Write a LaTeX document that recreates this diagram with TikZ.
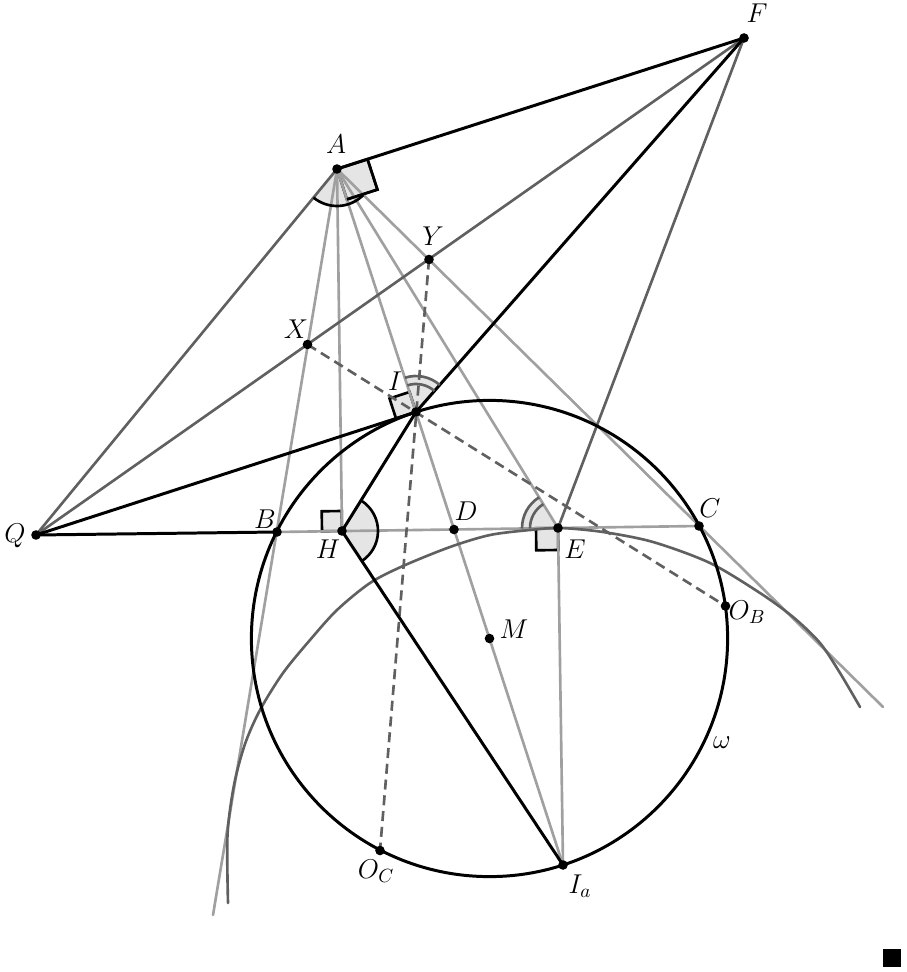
\RequirePackage{fix-cm}
\documentclass[tikz,border=0pt]{standalone}
\usepackage{tikz}
\usetikzlibrary{calc}

\definecolor{dkgray}{RGB}{96,96,96}
\definecolor{ltgray}{RGB}{160,160,160}
\definecolor{anglegray}{RGB}{229,229,229}

\begin{document}
\begin{tikzpicture}[x=0.02cm,y=-0.02cm,
    every node/.style={font=\fontsize{15.5}{18}\selectfont},
    blackline/.style={line width=1.7pt,black,line cap=round},
    darkline/.style={line width=1.5pt,dkgray,line cap=round},
    greyline/.style={line width=1.5pt,ltgray,line cap=round},
    dashline/.style={line width=1.5pt,dkgray,dash pattern=on 5.7pt off 3.3pt},
    anglefill/.style={fill=anglegray},
    anglearc/.style={line width=1.5pt,black},
    doublearc/.style={line width=1.5pt,dkgray},
    rightsq/.style={line width=1.5pt,black,fill=anglegray,line join=miter}]
  \useasboundingbox (0,0) rectangle (906,972);

  % points
  \coordinate (A) at (337,169);
  \coordinate (B) at (277,532);
  \coordinate (C) at (699,526);
  \coordinate (I) at (416,412);
  \coordinate (Ia) at (563,865);
  \coordinate (M) at (489.5,638.5);
  \coordinate (D) at (454,529.5);
  \coordinate (H) at (342,531);
  \coordinate (E) at (558,528);
  \coordinate (F) at (744,38);
  \coordinate (Q) at (36,535);
  \coordinate (X) at (307.5,344.5);
  \coordinate (Y) at (429,259.5);
  \coordinate (OB) at (725.5,606);
  \coordinate (OC) at (380,850.5);
  \coordinate (ABend) at (213,915);
  \coordinate (ACend) at (883,707);

  % angle fills
  \fill[anglefill] (A) -- ++(44.6:37) arc[start angle=44.6,end angle=129.4,radius=37] -- cycle;
  \fill[anglefill] (H) -- ++(-58.1:36) arc[start angle=-58.1,end angle=56.5,radius=36] -- cycle;
  \fill[anglefill] (E) -- ++(-180.8:36) arc[start angle=-180.8,end angle=-121.6,radius=36] -- cycle;
  \fill[anglefill] (I) -- ++(-108:36) arc[start angle=-108,end angle=-48.75,radius=36] -- cycle;
  \filldraw[rightsq] (A) -- (367.5,159.2) -- (377.4,189.6) -- (346.9,199.4) -- cycle;
  \filldraw[rightsq] (H) -- (322,531.3) -- (321.7,511.3) -- (341.7,511) -- cycle;
  \filldraw[rightsq] (E) -- (536,528.3) -- (536.3,550.3) -- (558.3,550) -- cycle;
  \filldraw[rightsq] (I) -- (396,418.5) -- (389.5,398.5) -- (409.5,392) -- cycle;

  % grey lines
  \draw[greyline] (A) -- (ABend);
  \draw[greyline] (A) -- (ACend);
  \draw[greyline] (A) -- (H);
  \draw[greyline] (A) -- (Ia);
  \draw[greyline] (A) -- (E);
  \draw[greyline] (E) -- (Ia);
  \draw[greyline] (B) -- (C);

  \draw[darkline] (Q) -- (A);
  \draw[darkline] (Q) -- (F);
  \draw[darkline] (E) -- (F);
  \draw[darkline] plot[smooth] coordinates {(228,903) (227.5,835) (234,785)
    (245,744) (260,710) (283,673) (310,640) (337,610) (370,583) (403,566) (450,547)
    (490,535) (530,530) (560,528) (603,532) (653,542) (710,563) (760,593) (793,617)
    (820,643) (840,673) (860,707)};

  \draw[dashline] (X) -- (OB);
  \draw[dashline] (Y) -- (OC);

  % black lines
  \draw[blackline] (A) -- (F);
  \draw[blackline] (F) -- (I) -- (H) -- (Ia);
  \draw[blackline] (Q) -- (I);
  \draw[blackline] (Q) -- (B);
  \draw[blackline] (M) circle[radius=238.1];

  % angle marks
  \draw[anglearc] ($(A)+(44.6:37)$) arc[start angle=44.6,end angle=129.4,radius=37];
  \draw[rightsq,fill=none] (367.5,159.2) -- (377.4,189.6) -- (346.9,199.4);
  \draw[anglearc] ($(H)+(-58.1:36)$) arc[start angle=-58.1,end angle=56.5,radius=36];
  \draw[doublearc] ($(E)+(-180.8:36)$) arc[start angle=-180.8,end angle=-121.6,radius=36];
  \draw[doublearc] ($(E)+(-180.8:28)$) arc[start angle=-180.8,end angle=-121.6,radius=28];
  \draw[doublearc] ($(I)+(-108:36)$) arc[start angle=-108,end angle=-48.75,radius=36];
  \draw[doublearc] ($(I)+(-108:28)$) arc[start angle=-108,end angle=-48.75,radius=28];

  % dots
  \foreach \p in {A,B,C,D,E,F,H,I,Ia,M,Q,X,Y,OB,OC}
    \fill (\p) circle[radius=4.8];

  % labels
  \node (lA) at (336,144) {$A$};
  \node (lF) at (757,13) {$F$};
  \node (lY) at (433,236) {$Y$};
  \node (lX) at (296,329) {$X$};
  \node (lI) at (395,381) {$I$};
  \node (lQ) at (15,536) {$Q$};
  \node (lB) at (265,519) {$B$};
  \node (lH) at (328,549) {$H$};
  \node (lD) at (466,511) {$D$};
  \node (lE) at (575,549) {$E$};
  \node (lC) at (710,508) {$C$};
  \node (lM) at (514,629) {$M$};
  \node (lOB) at (747,612) {$O_B$};
  \node (lOC) at (376,871) {$O_C$};
  \node (lIa) at (580,886) {$I_a$};
  \node (lw) at (722,743) {$\omega$};

  \fill (883,949) rectangle (901,967);
\end{tikzpicture}
\end{document}
